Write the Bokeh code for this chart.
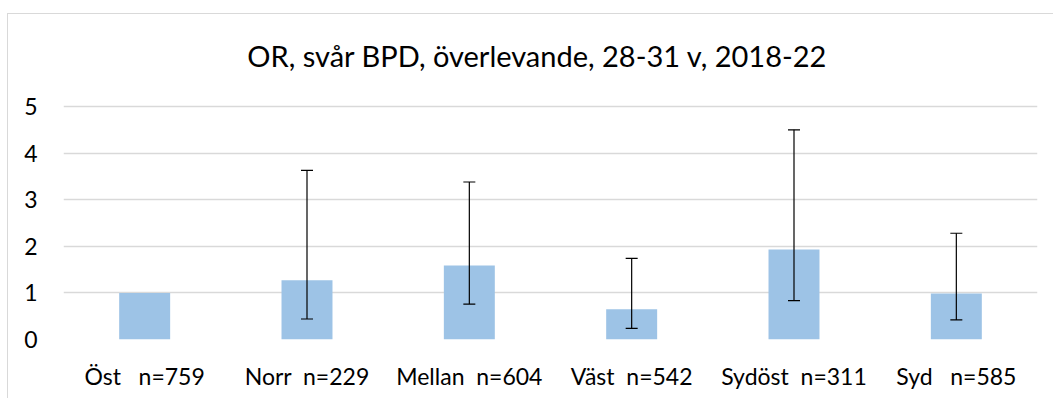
from bokeh.plotting import figure
from bokeh.layouts import column, row
from bokeh.models import ColumnDataSource, Range1d, Whisker, TeeHead, Label, Spacer
from bokeh.embed import file_html
from bokeh.resources import INLINE

# ---- data ----
NB = "\u00a0"
categories = ["Öst" + NB * 3 + "n=759", "Norr" + NB * 2 + "n=229", "Mellan" + NB * 2 + "n=604",
              "Väst" + NB * 2 + "n=542", "Sydöst" + NB * 2 + "n=311", "Syd" + NB * 3 + "n=585"]
or_values = [1.0, 1.27, 1.59, 0.65, 1.93, 0.985]
ci_low = [None, 0.44, 0.76, 0.24, 0.835, 0.42]
ci_high = [None, 3.63, 3.38, 1.74, 4.50, 2.28]
y_ticks = [0, 1, 2, 3, 4, 5]
title_text = "OR, svår BPD, överlevande, 28-31 v, 2018-22"

FONT = "Lato"

# frame extends above the top gridline so the title can sit inside it
p = figure(x_range=categories, y_range=Range1d(0, 6.974), width=1046, height=385,
           output_backend="svg", toolbar_location=None,
           min_border_left=55, min_border_right=17, min_border_top=0, min_border_bottom=60)
p.styles = {"border-top": "1px solid #d9d9d9", "border-left": "1px solid #d9d9d9"}
p.outline_line_color = None

title = Label(x=2.92, y=6.094, text=title_text, text_align="center", text_baseline="middle",
              text_font=FONT, text_font_size="29px", text_color="#000000")
p.add_layout(title)

src = ColumnDataSource(dict(cat=categories, val=or_values))
p.vbar(x="cat", top="val", width=0.314, source=src, fill_color="#9dc3e6", line_color=None)

idx = [i for i, v in enumerate(ci_low) if v is not None]
wsrc = ColumnDataSource(dict(cat=[categories[i] for i in idx],
                             lo=[ci_low[i] for i in idx],
                             hi=[ci_high[i] for i in idx]))
w = Whisker(base="cat", lower="lo", upper="hi", source=wsrc, line_color="#000000", line_width=1.2,
            level="overlay",
            upper_head=TeeHead(size=12, line_color="#000000", line_width=1.2),
            lower_head=TeeHead(size=12, line_color="#000000", line_width=1.2))
p.add_layout(w)

p.xgrid.grid_line_color = None
p.ygrid.grid_line_color = "#d9d9d9"
p.ygrid.grid_line_width = 1.5
p.yaxis.ticker = y_ticks

for ax in (p.xaxis[0], p.yaxis[0]):
    ax.axis_line_color = None
    ax.major_tick_line_color = None
    ax.minor_tick_line_color = None
    ax.major_tick_out = 0
    ax.major_tick_in = 0
    ax.minor_tick_out = 0
    ax.minor_tick_in = 0
    ax.major_label_text_font = FONT
    ax.major_label_text_font_size = "23px"
    ax.major_label_text_color = "#000000"
p.yaxis.major_label_standoff = 26
p.xaxis.major_label_standoff = 22
p.x_range.range_padding = 0
p.x_range.group_padding = 0

layout = column(Spacer(height=13, width=10), row(Spacer(width=7, height=10), p))
open("out.html", "w").write(file_html(layout, INLINE))
